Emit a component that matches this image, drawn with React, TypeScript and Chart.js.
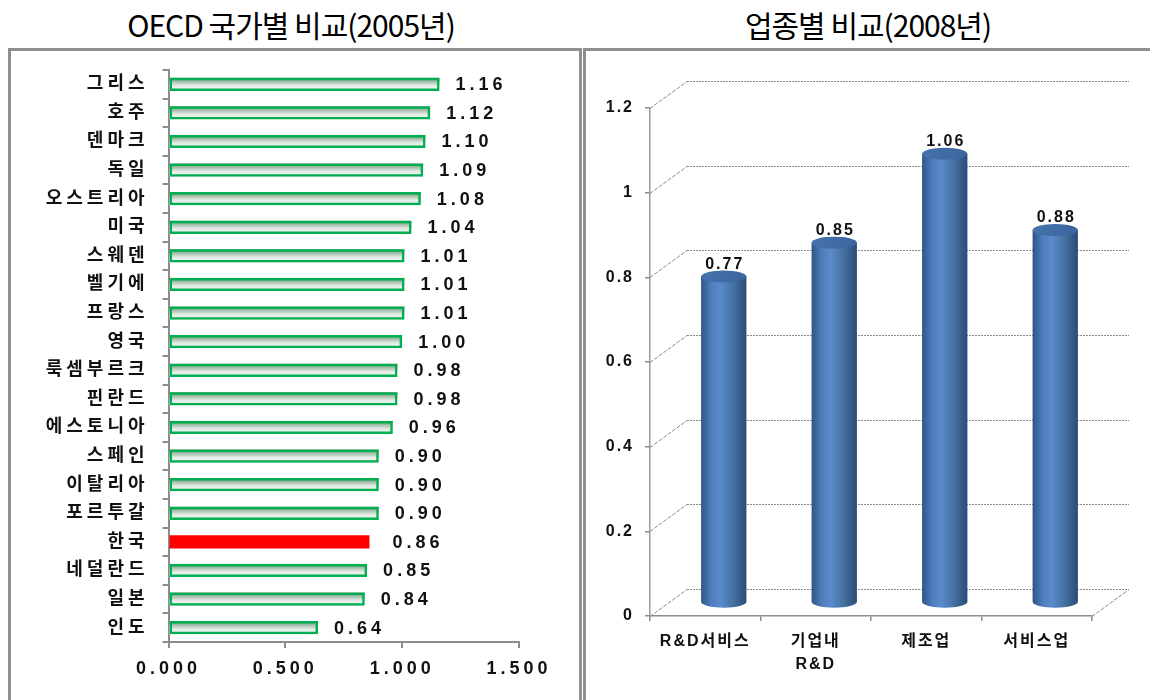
import React, { useEffect, useRef } from 'react';
import { Chart, registerables } from 'chart.js';

Chart.register(...registerables);

// ---------------- data ----------------
const countries = ['그리스', '호주', '덴마크', '독일', '오스트리아', '미국', '스웨덴', '벨기에', '프랑스', '영국', '룩셈부르크', '핀란드', '에스토니아', '스페인', '이탈리아', '포르투갈', '한국', '네덜란드', '일본', '인도'];
const countryValues = [1.16, 1.12, 1.10, 1.09, 1.08, 1.04, 1.01, 1.01, 1.01, 1.00, 0.98, 0.98, 0.96, 0.90, 0.90, 0.90, 0.86, 0.85, 0.84, 0.64];
const highlightCountry = '한국';
const countryTicks = [0, 0.5, 1.0, 1.5];

const industries = [['R&D서비스'], ['기업내', 'R&D'], ['제조업'], ['서비스업']];
const industryValues = [0.77, 0.85, 1.06, 0.88];
const industryTicks = [0, 0.2, 0.4, 0.6, 0.8, 1.0, 1.2];

const leftTitle = 'OECD 국가별 비교(2005년)';
const rightTitle = '업종별 비교(2008년)';

const FONT = "'Liberation Sans', 'Noto Sans CJK KR', sans-serif";

// ---------------- left chart ----------------
function LeftChart() {
  const ref = useRef<HTMLCanvasElement>(null);
  useEffect(() => {
    const canvas = ref.current!;
    const deco = {
      id: 'leftDeco',
      beforeDraw(chart: any) {
        chart.ctx.letterSpacing = '4px';
      },
      beforeDatasetsDraw(chart: any) {
        const ctx = chart.ctx;
        const meta = chart.getDatasetMeta(0);
        ctx.save();
        meta.data.forEach((bar: any, i: number) => {
          if (countries[i] === highlightCountry) return;
          const p = bar.getProps(['x', 'y', 'base', 'height'], true);
          const top = p.y - p.height / 2;
          const g = ctx.createLinearGradient(0, top, 0, top + p.height);
          g.addColorStop(0, '#4f8a60');
          g.addColorStop(0.25, '#9bb8a3');
          g.addColorStop(0.6, '#e4ebe6');
          g.addColorStop(1, '#f7f7f7');
          ctx.fillStyle = g;
          ctx.fillRect(p.base, top, p.x - p.base, p.height);
        });
        ctx.restore();
      },
      afterDatasetsDraw(chart: any) {
        const ctx = chart.ctx;
        const meta = chart.getDatasetMeta(0);
        ctx.save();
        ctx.letterSpacing = '4px';
        ctx.font = `bold 18px ${FONT}`;
        ctx.fillStyle = '#111';
        ctx.textAlign = 'left';
        ctx.textBaseline = 'middle';
        meta.data.forEach((bar: any, i: number) => {
          const p = bar.getProps(['x', 'y'], true);
          const gap = countries[i] === highlightCountry ? 23 : 16;
          ctx.fillText(countryValues[i].toFixed(2), p.x + gap, p.y + 1);
        });
        ctx.restore();
      },
    };
    const chart = new Chart(canvas, {
      type: 'bar',
      data: {
        labels: countries,
        datasets: [
          {
            data: countryValues,
            backgroundColor: countries.map((c) => (c === highlightCountry ? '#FF0000' : 'rgba(0,0,0,0)')),
            borderColor: countries.map((c) => (c === highlightCountry ? '#FF0000' : '#00B050')),
            borderWidth: countries.map((c) => (c === highlightCountry ? 0 : 2.5)),
            borderSkipped: false,
            barPercentage: 0.46,
            categoryPercentage: 1,
          },
        ],
      },
      options: {
        indexAxis: 'y',
        responsive: false,
        animation: false,
        layout: { padding: { top: 18, right: 58, left: 0, bottom: 0 } },
        plugins: { legend: { display: false }, tooltip: { enabled: false }, title: { display: false } },
        scales: {
          x: {
            min: 0,
            max: 1.5,
            afterBuildTicks: (s: any) => {
              s.ticks = countryTicks.map((v) => ({ value: v }));
            },
            afterFit: (s: any) => {
              s.height = 58;
            },
            grid: { drawOnChartArea: false, drawTicks: true, tickLength: 6, color: '#8c8c8c', lineWidth: 2 },
            border: { display: true, color: '#8c8c8c', width: 2 },
            ticks: {
              autoSkip: false,
              maxRotation: 0,
              padding: 10,
              color: '#111',
              font: { family: FONT, size: 18, weight: 'bold' },
              callback: (v: any) => Number(v).toFixed(3),
            },
          },
          y: {
            afterFit: (s: any) => {
              s.width = 157.5;
              s.paddingTop = 0;
              s.paddingBottom = 0;
            },
            grid: { offset: true, drawOnChartArea: false, drawTicks: true, tickLength: 6, color: '#8c8c8c', lineWidth: 2 },
            border: { display: true, color: '#8c8c8c', width: 2 },
            ticks: {
              autoSkip: false,
              padding: 14,
              color: '#111',
              font: { family: FONT, size: 18, weight: 'bold' },
            },
          },
        },
      },
      plugins: [deco],
    } as any);
    return () => chart.destroy();
  }, []);
  return (
    <canvas
      ref={ref}
      width={566}
      height={648}
      style={{ position: 'absolute', left: 11, top: 52, width: 566, height: 648 }}
    />
  );
}

// ---------------- right chart ----------------
const DX = 37;
const DY = 27;

function RightChart() {
  const ref = useRef<HTMLCanvasElement>(null);
  useEffect(() => {
    const canvas = ref.current!;
    const deco = {
      id: 'rightDeco',
      beforeDraw(chart: any) {
        chart.ctx.letterSpacing = '2px';
      },
      beforeDatasetsDraw(chart: any) {
        const ctx = chart.ctx;
        const { left, right } = chart.chartArea;
        const ys = chart.scales.y;
        ctx.save();
        ctx.strokeStyle = '#8a8a8a';
        ctx.lineWidth = 1;
        industryTicks.forEach((v) => {
          const y = Math.round(ys.getPixelForValue(v)) + 0.5;
          ctx.setLineDash([2, 1]);
          ctx.beginPath();
          ctx.moveTo(left + DX, y - DY);
          ctx.lineTo(right + DX, y - DY);
          ctx.stroke();
          ctx.setLineDash([4, 1.5]);
          ctx.beginPath();
          ctx.moveTo(left, y);
          ctx.lineTo(left + DX, y - DY);
          ctx.stroke();
        });
        const y0 = Math.round(ys.getPixelForValue(0)) + 0.5;
        ctx.beginPath();
        ctx.moveTo(right, y0);
        ctx.lineTo(right + DX, y0 - DY);
        ctx.stroke();
        ctx.restore();

        // cylinders
        const meta = chart.getDatasetMeta(0);
        ctx.save();
        meta.data.forEach((bar: any) => {
          const p = bar.getProps(['x', 'y', 'base', 'width'], true);
          const cx = p.x + DX / 2;
          const topY = p.y - DY / 2;
          const botY = p.base - DY / 2;
          const rx = p.width / 2;
          const ry = 6;
          const g = ctx.createLinearGradient(cx - rx, 0, cx + rx, 0);
          g.addColorStop(0, '#2e5585');
          g.addColorStop(0.22, '#4d7dbd');
          g.addColorStop(0.42, '#5a8bcb');
          g.addColorStop(0.72, '#43709f');
          g.addColorStop(1, '#2a4b77');
          ctx.fillStyle = g;
          ctx.beginPath();
          ctx.moveTo(cx - rx, topY);
          ctx.lineTo(cx - rx, botY);
          ctx.ellipse(cx, botY, rx, ry, 0, Math.PI, 0, true);
          ctx.lineTo(cx + rx, topY);
          ctx.closePath();
          ctx.fill();
          const tg = ctx.createLinearGradient(cx - rx, topY - ry, cx + rx, topY + ry);
          tg.addColorStop(0, '#4673ae');
          tg.addColorStop(1, '#3a649c');
          ctx.fillStyle = tg;
          ctx.beginPath();
          ctx.ellipse(cx, topY, rx, ry, 0, 0, Math.PI * 2);
          ctx.fill();
        });
        ctx.restore();
      },
      afterDatasetsDraw(chart: any) {
        const ctx = chart.ctx;
        const meta = chart.getDatasetMeta(0);
        ctx.save();
        ctx.letterSpacing = '2px';
        ctx.font = `bold 16px ${FONT}`;
        ctx.fillStyle = '#111';
        ctx.textAlign = 'center';
        ctx.textBaseline = 'alphabetic';
        meta.data.forEach((bar: any, i: number) => {
          const p = bar.getProps(['x', 'y'], true);
          ctx.fillText(industryValues[i].toFixed(2), p.x + DX / 2 + 1, p.y - DY / 2 - 8);
        });
        ctx.restore();
      },
    };
    const chart = new Chart(canvas, {
      type: 'bar',
      data: {
        labels: industries,
        datasets: [
          {
            data: industryValues,
            backgroundColor: 'rgba(0,0,0,0)',
            borderWidth: 0,
            barPercentage: 0.41,
            categoryPercentage: 1,
          },
        ],
      },
      options: {
        responsive: false,
        animation: false,
        layout: { padding: { top: 56, right: 58, left: 0, bottom: 0 } },
        plugins: { legend: { display: false }, tooltip: { enabled: false }, title: { display: false } },
        scales: {
          x: {
            afterFit: (s: any) => {
              s.height = 84;
            },
            grid: { offset: true, drawOnChartArea: false, drawTicks: true, tickLength: 5, color: '#8c8c8c', lineWidth: 1.5 },
            border: { display: true, color: '#8c8c8c', width: 1.5, dash: [2, 1] },
            ticks: {
              autoSkip: false,
              maxRotation: 0,
              padding: 9,
              color: '#111',
              font: { family: FONT, size: 16, weight: 'bold', lineHeight: 1.45 },
            },
          },
          y: {
            min: 0,
            max: 1.2,
            afterBuildTicks: (s: any) => {
              s.ticks = industryTicks.map((v) => ({ value: v }));
            },
            afterFit: (s: any) => {
              s.width = 64;
            },
            grid: { drawOnChartArea: false, drawTicks: true, tickLength: 5, color: '#8c8c8c', lineWidth: 1.5 },
            border: { display: true, color: '#9a9a9a', width: 1.5 },
            ticks: {
              padding: 11,
              color: '#111',
              font: { family: FONT, size: 16, weight: 'bold' },
              callback: (v: any) => String(Number(Number(v).toFixed(1))),
            },
          },
        },
      },
      plugins: [deco],
    } as any);
    return () => chart.destroy();
  }, []);
  return (
    <canvas
      ref={ref}
      width={564}
      height={648}
      style={{ position: 'absolute', left: 586, top: 52, width: 564, height: 648 }}
    />
  );
}

export default function App() {
  const titleStyle: React.CSSProperties = {
    position: 'absolute',
    top: 6,
    height: 36,
    lineHeight: '36px',
    textAlign: 'center',
    fontFamily: "'Noto Sans CJK KR', sans-serif",
    fontSize: 30,
    color: '#000',
    letterSpacing: '-1px',
    whiteSpace: 'nowrap',
  };
  return (
    <div
      style={{
        position: 'fixed',
        left: 0,
        top: 0,
        width: 1150,
        height: 700,
        background: '#fff',
        overflow: 'hidden',
      }}
    >
      <div style={{ ...titleStyle, left: 0, width: 582 }}>{leftTitle}</div>
      <div style={{ ...titleStyle, left: 583, width: 570 }}>{rightTitle}</div>
      <div
        style={{
          position: 'absolute',
          left: 8,
          top: 48,
          width: 574,
          height: 720,
          border: '3px solid #8f8f8f',
          boxSizing: 'border-box',
        }}
      />
      <div
        style={{
          position: 'absolute',
          left: 583,
          top: 48,
          width: 600,
          height: 720,
          border: '3px solid #8f8f8f',
          boxSizing: 'border-box',
        }}
      />
      <LeftChart />
      <RightChart />
    </div>
  );
}
